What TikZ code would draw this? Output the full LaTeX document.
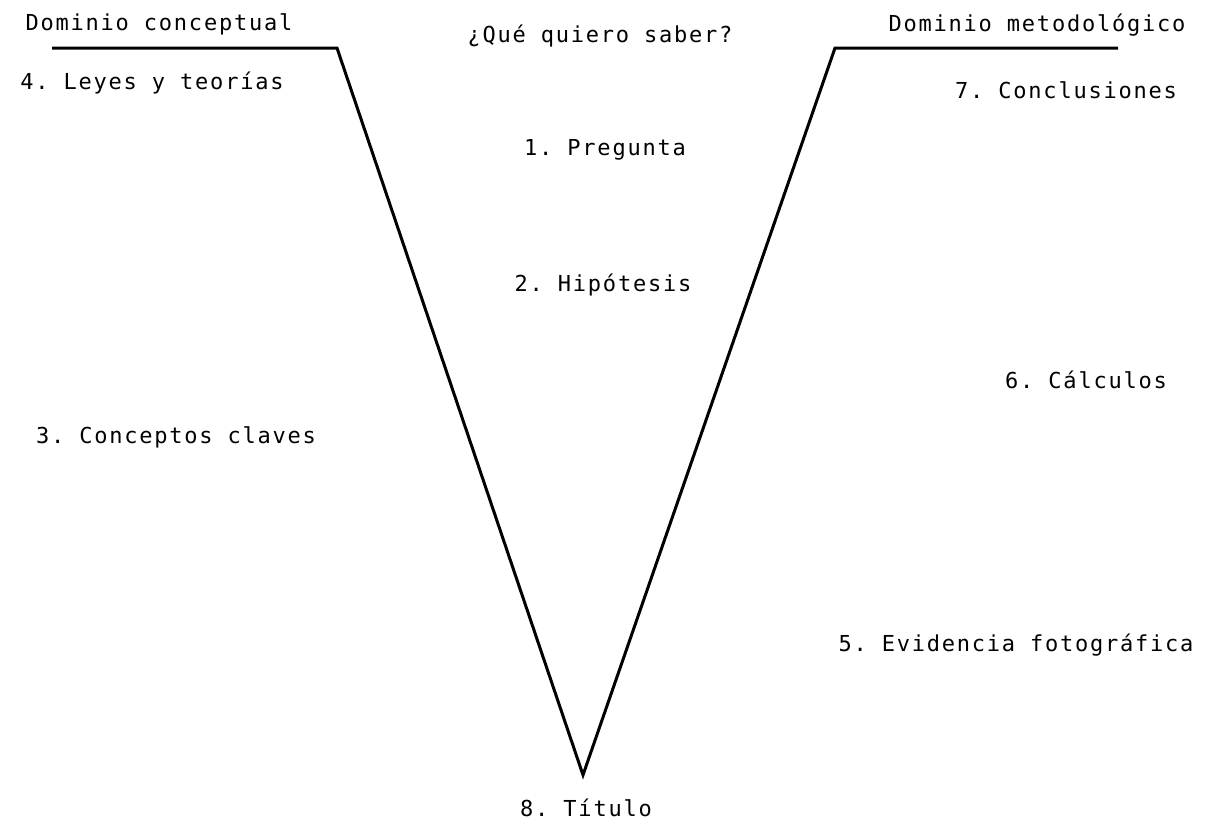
\documentclass[tikz,border=0pt]{standalone}
\usepackage{fontspec}
\setmonofont[LetterSpace=8]{DejaVu Sans Mono}
\begin{document}
\begin{tikzpicture}[x=1pt,y=-1pt,
  lbl/.style={font=\ttfamily\fontsize{22}{26}\selectfont,inner sep=0pt,anchor=center},
  vline/.style={line width=3pt,line join=miter,black}]
\useasboundingbox (0,0) rectangle (1205,825);
\coordinate (l0) at (52,48);
\coordinate (l1) at (337,48);
\coordinate (bot) at (583,775);
\coordinate (r1) at (835,48);
\coordinate (r0) at (1118,48);
\draw[vline] (l0) -- (l1) -- (bot) -- (r1) -- (r0);
\node[lbl] (dc) at (159,24) {Dominio conceptual};
\node[lbl] (q) at (600,36) {¿Qué quiero saber?};
\node[lbl] (dm) at (1037,25) {Dominio metodológico};
\node[lbl] (n4) at (152,83) {4. Leyes y teorías};
\node[lbl] (n7) at (1066,90) {7. Conclusiones};
\node[lbl] (n1) at (605,150) {1. Pregunta};
\node[lbl] (n2) at (603,285) {2. Hipótesis};
\node[lbl] (n6) at (1086,380) {6. Cálculos};
\node[lbl] (n3) at (176,437) {3. Conceptos claves};
\node[lbl] (n5) at (1016,645) {5. Evidencia fotográfica};
\node[lbl] (n8) at (586,808) {8. Título};
\end{tikzpicture}
\end{document}
